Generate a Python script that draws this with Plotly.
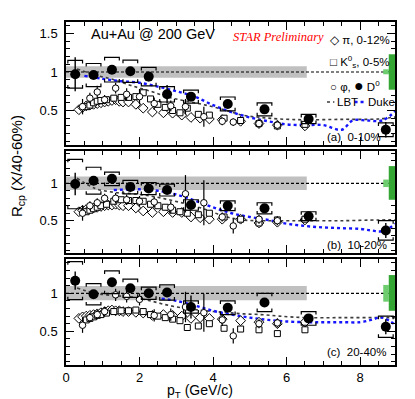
import plotly.graph_objects as go

# ---- data ----
pt_d0 = [0.25, 0.75, 1.25, 1.75, 2.25, 2.75, 3.4, 4.4, 5.4, 6.6, 8.7]

d0_a = [0.97, 0.96, 1.03, 1.01, 0.94, 0.71, 0.68, 0.585, 0.515, 0.39, 0.25]
d0_a_stat = [0.22, 0.04, 0.03, 0.03, 0.06, 0.12, 0.05, 0.05, 0.05, 0.04, 0.10]
d0_a_sys = [0.18, 0.15, 0.16, 0.145, 0.12, 0.10, 0.085, 0.09, 0.085, 0.06, 0.09]

d0_b = [0.99, 1.035, 1.06, 0.95, 0.93, 0.91, 0.71, 0.70, 0.665, 0.56, 0.37]
d0_b_stat = [0.15, 0.06, 0.04, 0.06, 0.04, 0.04, 0.05, 0.04, 0.04, 0.04, 0.10]
d0_b_sys = [0.33, 0.18, 0.09, 0.09, 0.08, 0.08, 0.07, 0.065, 0.075, 0.06, 0.13]

d0_c = [1.166, 0.987, 1.145, 1.066, 1.0, 1.01, 0.82, 0.81, 0.88, 0.67, 0.56]
d0_c_stat = [0.12, 0.04, 0.05, 0.05, 0.04, 0.04, 0.15, 0.04, 0.05, 0.04, 0.10]
d0_c_sys = [0.25, 0.14, 0.15, 0.12, 0.08, 0.10, 0.08, 0.09, 0.12, 0.09, 0.14]

pt_pi = [0.35, 0.45, 0.55, 0.65, 0.75, 0.85, 0.95, 1.05, 1.15, 1.25, 1.35, 1.45, 1.55, 1.7,
         1.9, 2.1, 2.35, 2.65, 2.9, 3.15, 3.4, 3.65, 3.9, 4.25, 4.75, 5.25, 5.75, 6.5]
pi_a = [0.51, 0.54, 0.56, 0.57, 0.58, 0.59, 0.60, 0.61, 0.62, 0.63, 0.64, 0.62, 0.61, 0.61,
        0.58, 0.53, 0.48, 0.47, 0.465, 0.44, 0.41, 0.40, 0.39, 0.38, 0.36, 0.33, 0.31, 0.30]
pi_b = [0.62, 0.64, 0.65, 0.66, 0.67, 0.68, 0.69, 0.70, 0.71, 0.71, 0.72, 0.71, 0.70, 0.70,
        0.67, 0.63, 0.61, 0.62, 0.61, 0.61, 0.55, 0.54, 0.52, 0.52, 0.52, 0.47, 0.48, 0.51]
pi_c = [0.67, 0.69, 0.70, 0.71, 0.72, 0.73, 0.745, 0.76, 0.77, 0.78, 0.77, 0.77, 0.76, 0.76,
        0.75, 0.74, 0.71, 0.72, 0.71, 0.70, 0.67, 0.68, 0.67, 0.66, 0.64, 0.62, 0.60, 0.62]

pt_k0s = [0.55, 0.65, 0.75, 0.85, 0.95, 1.1, 1.3, 1.5, 1.7, 1.9, 2.1, 2.3, 2.5, 2.7,
          2.9, 3.1, 3.3, 3.6, 3.9, 4.3, 4.75, 5.25, 5.75, 6.5]
k0s_a = [0.55, 0.57, 0.60, 0.62, 0.63, 0.64, 0.66, 0.67, 0.67, 0.68, 0.73, 0.65, 0.58, 0.54,
         0.50, 0.47, 0.53, 0.45, 0.44, 0.40, 0.37, 0.33, 0.30, 0.32]
k0s_b = [0.62, 0.64, 0.66, 0.68, 0.70, 0.72, 0.76, 0.78, 0.77, 0.77, 0.76, 0.72, 0.70, 0.68,
         0.64, 0.62, 0.60, 0.58, 0.60, 0.55, 0.52, 0.47, 0.51, 0.52]
k0s_c = [0.65, 0.67, 0.69, 0.71, 0.72, 0.74, 0.76, 0.77, 0.77, 0.78, 0.76, 0.72, 0.70, 0.68,
         0.66, 0.64, 0.55, 0.57, 0.60, 0.54, 0.53, 0.52, 0.47, 0.52]

pt_phi = [0.45, 0.65, 0.85, 1.05, 1.35, 1.65, 2.0, 2.4, 2.85, 3.25, 3.75, 4.25, 4.55, 5.25, 5.75]
phi_a = [0.55, 0.66, 0.74, 0.64, 0.79, 0.71, 0.68, 0.59, 0.56, 0.55, 0.42, 0.36, 0.35, 0.33, 0.31]
phi_a_err = [0.10, 0.07, 0.08, 0.06, 0.07, 0.08, 0.10, 0.08, 0.07, 0.10, 0.13, 0.05, 0.05, 0.05, 0.05]
phi_b = [0.60, 0.70, 0.74, 0.80, 0.80, 0.78, 0.76, 0.75, 0.68, 0.86, 0.74, 0.55, 0.43, 0.52, 0.50]
phi_b_err = [0.10, 0.06, 0.06, 0.06, 0.07, 0.07, 0.07, 0.07, 0.08, 0.25, 0.30, 0.06, 0.10, 0.06, 0.06]
phi_c = [0.58, 0.68, 0.72, 0.76, 0.98, 0.96, 0.92, 0.71, 0.72, 0.82, 0.745, 0.65, 0.44, 0.60, 0.61]
phi_c_err = [0.10, 0.06, 0.06, 0.06, 0.08, 0.08, 0.08, 0.08, 0.08, 0.20, 0.25, 0.08, 0.10, 0.06, 0.06]

pt_lbt = [0.3, 0.8, 1.3, 1.8, 2.3, 2.8, 3.3, 3.8, 4.3, 4.8, 5.3, 5.8, 6.5, 7.5, 8.5, 9.0]
lbt_a = [1.04, 0.96, 0.90, 0.82, 0.75, 0.67, 0.62, 0.57, 0.51, 0.44, 0.41, 0.39, 0.38, 0.385, 0.39, 0.42]
lbt_b = [1.07, 0.93, 0.88, 0.86, 0.83, 0.78, 0.72, 0.65, 0.56, 0.51, 0.50, 0.50, 0.50, 0.50, 0.51, 0.51]
lbt_c = [1.07, 1.00, 0.97, 0.95, 0.90, 0.84, 0.80, 0.77, 0.75, 0.73, 0.72, 0.70, 0.68, 0.68, 0.68, 0.68]

pt_duke_a = [0.5, 1.0, 1.5, 2.0, 2.5, 3.0, 3.5, 4.0, 4.5, 5.0, 5.5, 6.0, 6.5, 7.0, 7.5, 7.8, 8.2, 8.6, 9.0]
duke_a = [0.95, 0.91, 0.88, 0.86, 0.81, 0.75, 0.68, 0.57, 0.48, 0.41, 0.36, 0.32, 0.31, 0.31, 0.25, 0.37, 0.37, 0.37, 0.51]
pt_duke_b = [1.3, 2.0, 2.5, 3.0, 3.5, 4.0, 4.5, 5.0, 5.5, 6.0, 6.5, 7.0, 7.5, 8.0, 8.3, 8.6, 9.0]
duke_b = [0.91, 0.92, 0.90, 0.85, 0.77, 0.68, 0.60, 0.55, 0.51, 0.46, 0.43, 0.41, 0.40, 0.39, 0.37, 0.36, 0.47]
pt_duke_c = [2.6, 3.0, 3.5, 4.0, 4.5, 5.0, 5.5, 6.0, 6.5, 7.0, 7.5, 8.0, 8.3, 8.6, 9.0]
duke_c = [0.93, 0.90, 0.84, 0.77, 0.72, 0.68, 0.65, 0.63, 0.62, 0.62, 0.62, 0.62, 0.65, 0.68, 0.57]

band_pt = [0.0, 6.55]
band_a = [0.925, 1.075]
band_b = [0.91, 1.09]
band_c = [0.91, 1.095]

# global uncertainty boxes (dark: Ncoll, light: D0 norm)
glob_dark = [(0.77, 1.23), (0.78, 1.23), (0.77, 1.24)]
glob_light = [(0.97, 1.035), (0.95, 1.05), (0.89, 1.11)]

labels = ['(a)  0-10%', '(b)  10-20%', '(c)  20-40%']
yranges = [[0.052, 1.649], [0.068, 1.432], [0.057, 1.451]]
domains = [[0.6414, 1.0], [0.3265, 0.6239], [0.0, 0.309]]
label_y = [0.156, 0.175, 0.228]

panels = [
    (d0_a, d0_a_stat, d0_a_sys, pi_a, k0s_a, phi_a, phi_a_err, lbt_a, pt_duke_a, duke_a, band_a),
    (d0_b, d0_b_stat, d0_b_sys, pi_b, k0s_b, phi_b, phi_b_err, lbt_b, pt_duke_b, duke_b, band_b),
    (d0_c, d0_c_stat, d0_c_sys, pi_c, k0s_c, phi_c, phi_c_err, lbt_c, pt_duke_c, duke_c, band_c),
]

FONT = 'Liberation Sans, Arial, sans-serif'


def bracket_path(xs, ys, ss, w=0.2, t=0.04):
    px, py = [], []
    for x, y, s in zip(xs, ys, ss):
        px += [x - w, x - w, x + w, x + w, None, x - w, x - w, x + w, x + w, None]
        py += [y + s - t, y + s, y + s, y + s - t, None, y - s + t, y - s, y - s, y - s + t, None]
    return px, py


fig = go.Figure()
shapes = []
annotations = []

for i, (d0, st, sy, pi, k0, phi, phie, lbt, pdk, dk, band) in enumerate(panels):
    xa = 'x' if i == 0 else f'x{i+1}'
    ya = 'y' if i == 0 else f'y{i+1}'

    # gray band around unity
    fig.add_trace(go.Scatter(
        x=[band_pt[0], band_pt[1], band_pt[1], band_pt[0]],
        y=[band[0], band[0], band[1], band[1]],
        fill='toself', fillcolor='rgb(192,192,192)', line=dict(width=0),
        mode='lines', xaxis=xa, yaxis=ya, hoverinfo='skip'))
    # unity line
    fig.add_trace(go.Scatter(x=[0, 9], y=[1, 1], mode='lines',
                             line=dict(color='black', width=1.2, dash='3px,2px'),
                             xaxis=xa, yaxis=ya))
    # models
    fig.add_trace(go.Scatter(x=pt_lbt, y=lbt, mode='lines', line_shape='spline',
                             line=dict(color='rgb(60,60,60)', width=1.6, dash='dot'),
                             xaxis=xa, yaxis=ya))
    fig.add_trace(go.Scatter(x=pdk, y=dk, mode='lines', line_shape='spline',
                             line=dict(color='rgb(20,20,255)', width=2.4, dash='3px,3px'),
                             xaxis=xa, yaxis=ya))
    # light hadrons
    fig.add_trace(go.Scatter(x=pt_pi, y=pi, mode='markers', xaxis=xa, yaxis=ya,
                             error_y=dict(type='constant', value=0.025, thickness=1, width=0, color='black'),
                             marker=dict(symbol='diamond', size=7.5, color='white',
                                         line=dict(color='black', width=1))))
    fig.add_trace(go.Scatter(x=pt_k0s, y=k0, mode='markers', xaxis=xa, yaxis=ya,
                             error_y=dict(type='constant', value=0.02, thickness=1, width=0, color='black'),
                             marker=dict(symbol='square', size=6, color='white',
                                         line=dict(color='black', width=1))))
    fig.add_trace(go.Scatter(x=pt_phi, y=phi, mode='markers', xaxis=xa, yaxis=ya,
                             error_y=dict(type='data', array=phie, thickness=1.2, width=0, color='black'),
                             marker=dict(symbol='circle', size=6.5, color='white',
                                         line=dict(color='black', width=1))))
    # D0 systematic brackets
    bx, by = bracket_path(pt_d0, d0, sy)
    fig.add_trace(go.Scatter(x=bx, y=by, mode='lines', line=dict(color='black', width=1.2),
                             xaxis=xa, yaxis=ya))
    # D0
    fig.add_trace(go.Scatter(x=pt_d0, y=d0, mode='markers', xaxis=xa, yaxis=ya,
                             error_y=dict(type='data', array=st, thickness=1.4, width=0, color='black'),
                             marker=dict(symbol='circle', size=10, color='black')))

    # global uncertainty boxes
    shapes.append(dict(type='rect', xref=xa, yref=ya, x0=8.63, x1=8.78,
                       y0=glob_light[i][0], y1=glob_light[i][1],
                       fillcolor='rgb(110,205,110)', line=dict(width=0), layer='above'))
    shapes.append(dict(type='rect', xref=xa, yref=ya, x0=8.78, x1=8.95,
                       y0=glob_dark[i][0], y1=glob_dark[i][1],
                       fillcolor='rgb(50,165,50)', line=dict(width=0), layer='above'))

    annotations.append(dict(x=7.05, y=label_y[i], xref=xa, yref=ya, text=labels[i],
                            showarrow=False, xanchor='left', yanchor='middle',
                            font=dict(family=FONT, size=11.5, color='black')))

axis_common = dict(range=[0, 8.95], showline=True, linecolor='black', linewidth=1.5,
                   mirror='ticks', ticks='inside', ticklen=8, tickcolor='black', tickwidth=1,
                   showgrid=False, zeroline=False, tickvals=[0, 2, 4, 6, 8],
                   minor=dict(ticks='inside', ticklen=4, dtick=0.5, tick0=0, tickcolor='black', showgrid=False),
                   tickfont=dict(family=FONT, size=13, color='black'))
yaxis_common = dict(showline=True, linecolor='black', linewidth=1.5, mirror='ticks',
                    ticks='inside', ticklen=8, tickcolor='black', tickwidth=1,
                    showgrid=False, zeroline=False, tickvals=[0.5, 1, 1.5],
                    ticktext=['0.5', '1', '1.5'], ticklabelstandoff=4,
                    minor=dict(ticks='inside', ticklen=4, dtick=0.1, tick0=0, tickcolor='black', showgrid=False),
                    tickfont=dict(family=FONT, size=13, color='black'))

# the page body adds an 8px offset, so margins are shifted to compensate
layout = dict(width=415, height=399, showlegend=False,
              margin=dict(l=58, r=28, t=14, b=42),
              paper_bgcolor='white', plot_bgcolor='white')
for i in range(3):
    xk = 'xaxis' if i == 0 else f'xaxis{i+1}'
    yk = 'yaxis' if i == 0 else f'yaxis{i+1}'
    ya = 'y' if i == 0 else f'y{i+1}'
    xa = 'x' if i == 0 else f'x{i+1}'
    layout[xk] = dict(axis_common, anchor=ya, domain=[0, 1], showticklabels=(i == 2))
    layout[yk] = dict(yaxis_common, anchor=xa, domain=domains[i], range=yranges[i])

# panel (a) texts and legend
annotations += [
    dict(x=0.62, y=1.49, xref='x', yref='y', text='Au+Au @ 200 GeV', showarrow=False,
         xanchor='left', yanchor='middle', font=dict(family=FONT, size=14.5, color='black')),
    dict(x=4.5, y=1.455, xref='x', yref='y', text='<i>STAR Preliminary</i>', showarrow=False,
         xanchor='left', yanchor='middle', font=dict(family='Liberation Serif, Times New Roman, serif',
                                                    size=12.5, color='red')),
    dict(x=7.12, y=1.415, xref='x', yref='y', text='◇ π, 0-12%', showarrow=False,
         xanchor='left', yanchor='middle', font=dict(family=FONT, size=11.5, color='black')),
    dict(x=7.12, y=1.13, xref='x', yref='y', text='□ K<sup>0</sup><sub>s</sub>, 0-5%', showarrow=False,
         xanchor='left', yanchor='middle', font=dict(family=FONT, size=11.5, color='black')),
    dict(x=7.12, y=0.82, xref='x', yref='y', text='○ φ, <span style="font-size:16px">●</span> D<sup>0</sup>',
         showarrow=False, xanchor='left', yanchor='middle', font=dict(family=FONT, size=11.5, color='black')),
    dict(x=7.32, y=0.61, xref='x', yref='y', text='LBT', showarrow=False,
         xanchor='left', yanchor='middle', font=dict(family=FONT, size=11.5, color='black')),
    dict(x=8.15, y=0.61, xref='x', yref='y', text='Duke', showarrow=False,
         xanchor='left', yanchor='middle', font=dict(family=FONT, size=11.5, color='black')),
    dict(x=-0.149, y=0.58, xref='paper', yref='paper', text='R<sub>cp</sub> (X/40-60%)',
         textangle=-90, showarrow=False, xanchor='center', yanchor='middle',
         font=dict(family=FONT, size=15, color='black')),
    dict(x=0.407, y=-0.043, xref='paper', yref='paper', text='p<sub>T</sub> (GeV/c)',
         showarrow=False, xanchor='center', yanchor='top',
         font=dict(family=FONT, size=14, color='black')),
]

# legend line samples
shapes += [
    dict(type='line', xref='x', yref='y', x0=7.1, x1=7.3, y0=0.61, y1=0.61,
         line=dict(color='rgb(60,60,60)', width=1.6, dash='dot')),
    dict(type='line', xref='x', yref='y', x0=7.85, x1=8.12, y0=0.61, y1=0.61,
         line=dict(color='rgb(20,20,255)', width=2.4, dash='3px,3px')),
]

layout['shapes'] = shapes
layout['annotations'] = annotations
fig.update_layout(**layout)

fig.write_html('out.html')
